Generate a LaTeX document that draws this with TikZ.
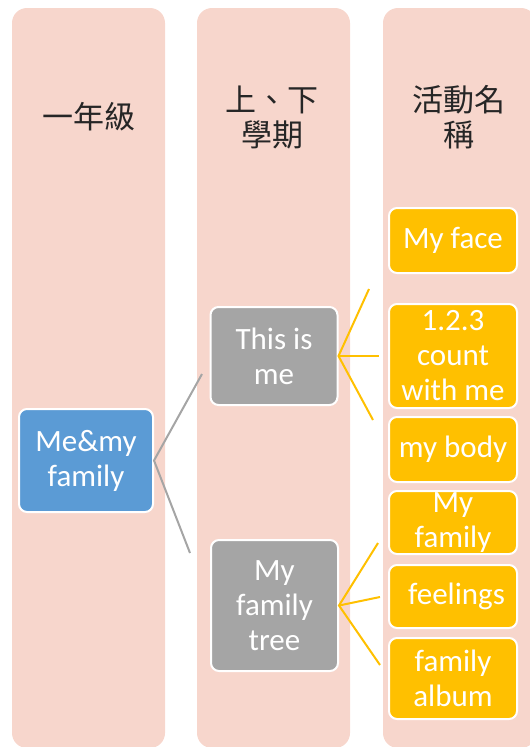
\documentclass[tikz,border=0pt]{standalone}
\usepackage{fontspec}
\setmainfont{Carlito}
\newfontfamily\cjk{Noto Sans CJK TC}
\definecolor{colbg}{HTML}{F7D6CC}
\definecolor{boxblue}{HTML}{5B9BD5}
\definecolor{boxgray}{HTML}{A5A5A5}
\definecolor{boxorange}{HTML}{FFC000}
\begin{document}
\begin{tikzpicture}[x=1pt,y=-1pt,
  colbox/.style={fill=colbg, rounded corners=15pt},
  head/.style={font=\cjk\fontsize{31}{35}\selectfont, align=center, text=black!85, inner sep=0pt},
  box/.style={draw=white, line width=2pt, rounded corners=8pt, inner sep=0pt, align=center, text=white, font=\fontsize{31}{35}\selectfont},
  bluebox/.style={box, fill=boxblue, minimum width=134pt, minimum height=103pt},
  graybox/.style={box, fill=boxgray, minimum width=127pt},
  orangebox/.style={box, fill=boxorange, minimum width=128pt},
  glink/.style={draw=boxgray, line width=2pt},
  olink/.style={draw=boxorange, line width=2pt}]
\useasboundingbox (0,0) rectangle (530,747);
\clip (0,0) rectangle (530,747);
% columns
\path[colbox] (12,8) rectangle (165,748);
\path[colbox] (197,8) rectangle (350,748);
\path[colbox] (383,8) rectangle (536,748);
% headers
\node[head] (h1) at (88.5,117) {一年級};
\node[head] (h2) at (272,117.5) {上、下\\學期};
\node[head] (h3) at (459,117.5) {活動名\\稱};
% nodes
\node[bluebox] (root) at (86,460.5) {Me\&my\\family};
\node[graybox, minimum height=98pt] (s1) at (274,356) {This is\\me};
\node[graybox, minimum height=131pt] (s2) at (274.5,605.5) {My\\family\\tree};
\node[orangebox, minimum height=65pt] (a1) at (453,240.5) {My face};
\node[orangebox, minimum height=104pt] (a2) at (453,356) {1.2.3\\count\\with me};
\node[orangebox, minimum height=65pt] (a3) at (453,449.5) {my body};
\node[orangebox, minimum height=63pt] (a4) at (453,522.5) {My\\family};
\node[orangebox, minimum height=63pt] (a5) at (453,596.5) {\ feelings};
\node[orangebox, minimum height=81pt] (a6) at (453,678.5) {family\\album};
% connector ends
\coordinate (g1) at (202,374);
\coordinate (g2) at (190,553);
\coordinate (o1) at (369,289);
\coordinate (o2) at (379,356);
\coordinate (o3) at (373,420);
\coordinate (o4) at (378,543);
\coordinate (o5) at (380,597);
\coordinate (o6) at (380,665);
% connectors
\draw[glink] (g1) -- (root.east) -- (g2);
\draw[olink] (o1) -- (s1.east) -- (o3);
\draw[olink] (s1.east) -- (o2);
\draw[olink] (o4) -- (s2.east) -- (o6);
\draw[olink] (s2.east) -- (o5);
\end{tikzpicture}
\end{document}
